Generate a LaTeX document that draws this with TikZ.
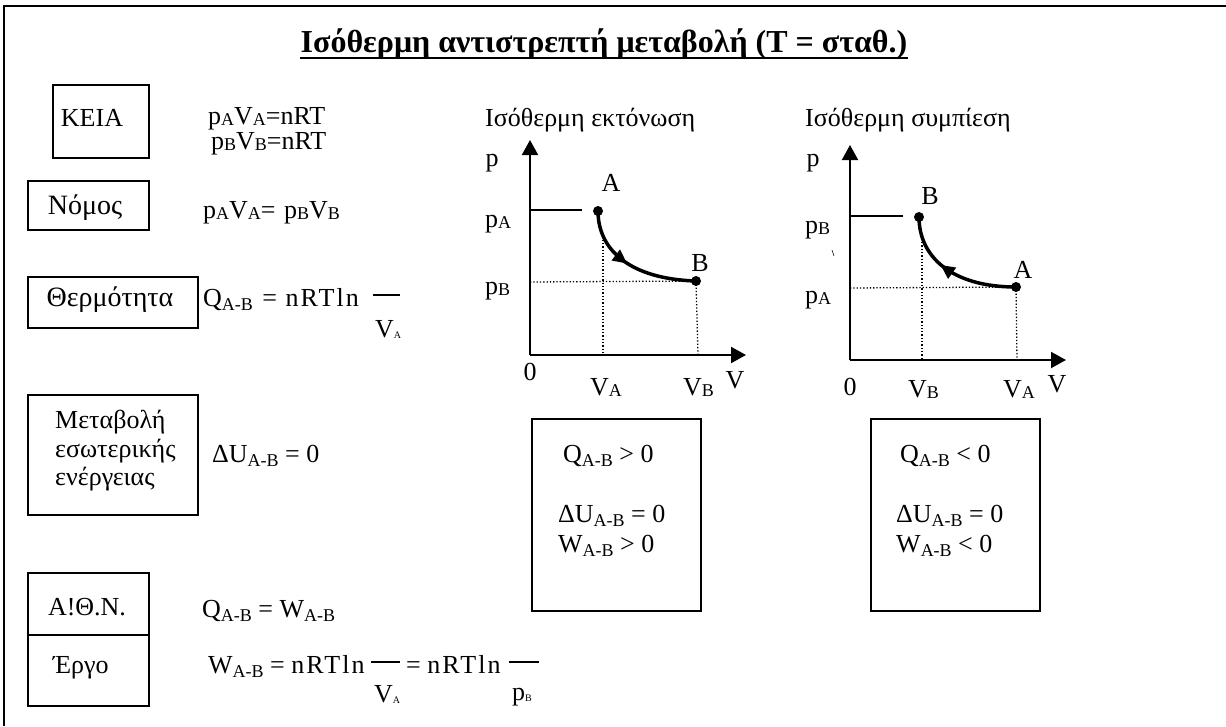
\documentclass[tikz,border=0pt]{standalone}
\usepackage{fontspec}
\setmainfont{Liberation Serif}
\usetikzlibrary{decorations.markings,arrows.meta}
\newcommand\sbA[1]{\raisebox{-1.5pt}{\fontsize{18}{18}\selectfont #1}}
\newcommand\sbB[1]{\raisebox{-4pt}{\fontsize{18}{18}\selectfont #1}}
\newcommand\sbT[1]{\raisebox{-1pt}{\fontsize{10}{10}\selectfont #1}}
\newcommand\nrtln{{\addfontfeature{LetterSpace=8}nRTln}}
\begin{document}
\begin{tikzpicture}[x=1pt,y=-1pt,
  txt/.style={inner sep=0pt, font=\fontsize{26}{28}\selectfont},
  big/.style={inner sep=0pt, font=\fontsize{28}{30}\selectfont},
  boxs/.style={draw, line width=1.5pt, inner sep=0pt, anchor=north west},
  axis/.style={line width=2pt, -{Triangle[length=15pt,width=16pt]}},
  curve/.style={line width=3.5pt},
  dots/.style={line width=1.3pt, dotted},
  pt/.style={circle, fill, inner sep=0pt, minimum size=10pt},
  bar/.style={line width=1.3pt},
  midarrow/.style={postaction={decorate}, decoration={markings,
     mark=at position #1 with {\fill (6pt,0) -- (-8pt,7pt) -- (-8pt,-7pt) -- cycle;}}}
]
\useasboundingbox (0,0) rectangle (1226,726);
% frame
\coordinate (fTL) at (4,6);
\coordinate (fTR) at (1226,6);
\coordinate (fBL) at (4,726);
\draw[line width=2.5pt] (fTR) -- (fTL) -- (fBL);

% title
\node[inner sep=0pt, font=\fontsize{32}{34}\selectfont\bfseries, anchor=base] (title) at (604,52)
  {Ισόθερμη αντιστρεπτή μεταβολή (Τ = σταθ.)};
\draw[line width=2.8pt] ([yshift=-6pt]title.base west) -- ([yshift=-6pt]title.base east);

% left column
\node[boxs, minimum width=96pt, minimum height=73pt] (keia) at (52,84) {};
\node[txt, anchor=base] (keiat) at (92,126) {ΚΕΙΑ};
\node[txt, anchor=base west] (e1) at (208,124) {p\sbA{A}V\sbA{A}=nRT};
\node[txt, anchor=base west] (e2) at (211,149) {p\sbA{B}V\sbA{B}=nRT};

\node[boxs, minimum width=121pt, minimum height=49pt] (nomos) at (27,180) {};
\node[big, anchor=base] (nomost) at (85,214) {Νόμος};
\node[txt, anchor=base west] (e3) at (203,218) {p\sbA{A}V\sbA{A}=\hspace{2pt} p\sbA{B}V\sbA{B}};

\node[boxs, minimum width=170pt, minimum height=51pt] (therm) at (27,276) {};
\node[big, anchor=base] (thermt) at (110,306) {Θερμότητα};
\node[txt, anchor=base west] (e4) at (203,306) {Q\sbB{A-B}\hspace{3pt} =\hspace{2pt} \nrtln};
\coordinate (b1a) at (373,295); \coordinate (b1b) at (400,295);
\draw[bar] (b1a) -- (b1b);
\node[txt, anchor=base west] (e4d) at (375,337) {V\sbT{A}};

\node[boxs, minimum width=170pt, minimum height=120pt] (metab) at (27,394) {};
\node[txt, anchor=north west, align=left, font=\fontsize{26}{28.5}\selectfont] (metabt) at (55,410)
  {Μεταβολή\\εσωτερικής\\ενέργειας};
\node[txt, anchor=base west] (e5) at (212,462) {ΔU\sbB{A-B} = 0};

\node[boxs, minimum width=121pt, minimum height=62pt] (aothn) at (27,572) {};
\node[txt, anchor=base] (aothnt) at (87,615) {Α!Θ.Ν.};
\node[boxs, minimum width=121pt, minimum height=71pt] (ergo) at (27,634) {};
\node[txt, anchor=base west] (ergot) at (53,673) {Έργο};
\node[txt, anchor=base west] (e6) at (202,617) {Q\sbB{A-B} = W\sbB{A-B}};
\node[txt, anchor=base west] (e7) at (208,673) {W\sbB{A-B} = \nrtln};
\coordinate (b2a) at (371,662); \coordinate (b2b) at (400,662);
\draw[bar] (b2a) -- (b2b);
\node[txt, anchor=base west] (e7d) at (374,702) {V\sbT{A}};
\node[txt, anchor=base west] (e8) at (406,673) {= \nrtln};
\coordinate (b3a) at (509,662); \coordinate (b3b) at (539,662);
\draw[bar] (b3a) -- (b3b);
\node[txt, anchor=base west] (e8d) at (512,700) {p\sbT{B}};

% chart 1
\node[txt, anchor=base west] (c1t) at (485,126) {Ισόθερμη εκτόνωση};
\coordinate (o1) at (530,355);
\coordinate (y1) at (530,140);
\coordinate (x1) at (746,355);
\draw[axis] (o1) -- (y1);
\draw[axis] (o1) -- (x1);
\node[pt] (A1) at (598,211) {};
\node[pt] (B1) at (696,281) {};
\coordinate (pa1) at (582,210);
\coordinate (pa1s) at (530,210);
\draw[line width=1.5pt] (pa1s) -- (pa1);
\coordinate (pb1s) at (530,282);
\coordinate (va1t) at (603,233);
\coordinate (va1b) at (603,355);
\coordinate (vb1b) at (698,355);
\draw[dots] (pb1s) -- (B1.center);
\draw[dots] (va1t) -- (va1b);
\draw[dots] (B1.center) -- (vb1b);
\draw[curve, midarrow=0.42] (A1.center) .. controls (598,250) and (630,279) .. (B1.center);
\node[txt, anchor=center] (p1) at (492,163) {p};
\node[txt, anchor=center] (lA1) at (611,183) {A};
\node[txt, anchor=center] (lB1) at (700,263) {B};
\node[txt, anchor=base west] (pA1) at (485,227) {p\sbA{A}};
\node[txt, anchor=base west] (pB1) at (485,294) {p\sbA{B}};
\node[txt, anchor=base] (z1) at (530,380) {0};
\node[txt, anchor=base west] (VA1) at (590,395) {V\sbA{A}};
\node[txt, anchor=base west] (VB1) at (683,395) {V\sbA{B}};
\node[txt, anchor=base] (V1) at (735,388) {V};

% chart 2
\node[txt, anchor=base west] (c2t) at (805,126) {Ισόθερμη συμπίεση};
\coordinate (o2) at (850,360);
\coordinate (y2) at (850,145);
\coordinate (x2) at (1066,360);
\draw[axis] (o2) -- (y2);
\draw[axis] (o2) -- (x2);
\node[pt] (B2) at (919,217) {};
\node[pt] (A2) at (1016,287) {};
\coordinate (pb2) at (903,216);
\coordinate (pb2s) at (850,216);
\draw[line width=1.5pt] (pb2s) -- (pb2);
\coordinate (pa2s) at (850,288);
\coordinate (vb2t) at (922,242);
\coordinate (vb2b) at (922,360);
\coordinate (va2b) at (1017,360);
\draw[dots] (pa2s) -- (A2.center);
\draw[dots] (vb2t) -- (vb2b);
\draw[dots] (A2.center) -- (va2b);
\draw[curve, midarrow=0.55] (A2.center) .. controls (952,287) and (919,257) .. (B2.center);
\node[txt, anchor=center] (p2) at (813,163) {p};
\node[txt, anchor=center] (lB2) at (930,196) {B};
\node[txt, anchor=center] (lA2) at (1023,270) {A};
\node[txt, anchor=base west] (pB2) at (805,233) {p\sbA{B}};
\node[txt, anchor=base west] (pA2) at (805,303) {p\sbA{A}};
\coordinate (st1) at (832,250); \coordinate (st2) at (834,256);
\draw[line width=0.6pt] (st1) -- (st2);
\node[txt, anchor=base] (z2) at (850,395) {0};
\node[txt, anchor=base west] (VB2) at (908,397) {V\sbA{B}};
\node[txt, anchor=base west] (VA2) at (1003,397) {V\sbA{A}};
\node[txt, anchor=base] (V2) at (1057,392) {V};

% result boxes
\node[boxs, minimum width=169pt, minimum height=192pt] (r1) at (531,418) {};
\node[txt, anchor=base west] (r1a) at (563,462) {Q\sbB{A-B} > 0};
\node[txt, anchor=base west] (r1b) at (558,522) {ΔU\sbB{A-B} = 0};
\node[txt, anchor=base west] (r1c) at (558,552) {W\sbB{A-B} > 0};
\node[boxs, minimum width=169pt, minimum height=192pt] (r2) at (870,418) {};
\node[txt, anchor=base west] (r2a) at (900,462) {Q\sbB{A-B} < 0};
\node[txt, anchor=base west] (r2b) at (896,522) {ΔU\sbB{A-B} = 0};
\node[txt, anchor=base west] (r2c) at (896,552) {W\sbB{A-B} < 0};
\end{tikzpicture}
\end{document}
